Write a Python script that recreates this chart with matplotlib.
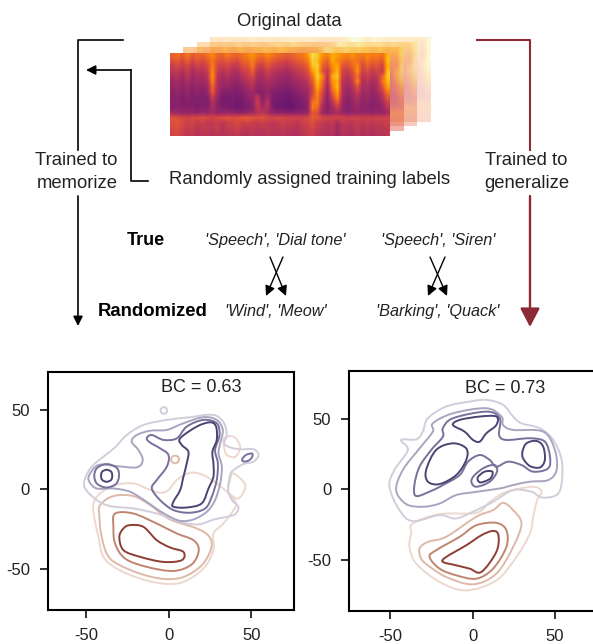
import numpy as np
import matplotlib
matplotlib.use("Agg")
import matplotlib.pyplot as plt
from matplotlib.path import Path
from matplotlib.patches import PathPatch

plt.rcParams["font.family"] = ["Liberation Sans", "DejaVu Sans"]

# spectrogram read by eye, rows top to bottom, 0-100 on inferno
spec = np.array([
    [62,66,60,68,60,64,62,66,72,64,62,68,64,62,66,70,74,68,66,72,68,64,62,60,62,66,68,74,90,86,74,70,80,76,72,70,74,70,68,72,68,70,66,82],
    [56,60,54,62,52,58,54,60,68,58,56,60,56,54,62,64,70,60,58,64,60,56,54,52,56,60,62,68,88,84,68,62,80,72,66,62,68,66,60,68,62,64,58,84],
    [50,54,48,54,46,52,48,54,70,54,50,54,48,48,56,58,68,52,50,58,52,50,48,46,50,54,56,60,84,88,62,56,74,78,58,56,64,72,54,62,56,58,52,80],
    [46,48,42,50,42,46,44,50,72,50,44,48,44,42,50,52,62,46,44,52,46,44,42,40,44,48,50,56,76,86,58,48,70,82,52,50,56,74,50,56,48,54,48,84],
    [42,44,38,46,38,42,40,46,74,46,40,44,40,38,44,48,54,42,40,46,42,40,38,36,40,44,46,50,66,88,72,44,80,86,50,44,52,66,46,50,44,48,62,86],
    [38,40,36,42,36,40,38,42,70,44,38,40,36,36,40,44,48,38,38,42,40,36,36,34,36,40,42,46,60,84,64,42,74,80,46,42,48,72,42,46,40,44,66,82],
    [36,38,34,38,34,36,34,38,64,42,36,36,34,32,36,40,44,36,36,38,36,34,32,32,34,36,38,42,54,80,62,38,70,84,44,38,44,58,40,42,38,42,58,78],
    [34,36,32,36,32,34,32,36,60,40,32,32,30,30,32,36,38,32,32,36,32,30,30,28,30,34,36,38,52,74,54,36,62,78,42,36,40,50,38,40,36,40,50,68],
    [32,34,30,34,30,32,30,32,50,36,28,28,30,28,30,34,36,46,32,40,30,28,28,26,28,30,32,36,58,70,50,34,54,72,40,34,38,44,36,38,34,36,44,60],
    [32,32,30,32,30,30,30,30,44,34,28,28,28,26,28,32,34,50,34,46,28,26,26,24,26,28,30,34,66,70,46,32,46,62,38,32,36,40,34,36,32,34,40,52],
    [32,34,32,32,32,30,32,32,40,34,30,30,28,26,28,30,32,48,40,44,30,26,26,24,24,28,30,32,68,64,40,32,40,50,36,32,34,38,34,34,32,34,36,46],
    [38,38,36,36,36,34,38,36,40,36,36,36,36,34,34,36,38,44,46,42,36,34,34,32,32,34,34,36,60,56,38,34,38,42,36,34,36,36,36,36,34,36,36,40],
    [58,56,54,52,54,54,56,54,52,54,56,58,56,56,60,60,58,56,58,54,52,54,54,52,52,52,52,54,60,58,54,52,52,52,52,50,50,52,50,50,50,52,50,52],
    [56,58,54,50,52,48,50,46,48,50,46,50,52,54,50,52,50,48,50,48,46,48,50,48,48,46,50,52,56,50,48,46,48,40,48,46,46,48,46,48,46,48,48,50],
    [54,56,52,48,50,46,48,48,46,50,44,48,50,52,48,46,48,46,46,48,46,46,48,46,46,44,48,50,54,48,46,44,46,38,46,44,44,48,44,46,44,46,46,48],
    [52,54,50,46,48,44,46,46,44,46,44,46,46,48,44,44,46,44,44,46,44,44,46,44,44,42,46,48,50,46,44,42,44,38,44,42,42,46,42,44,42,44,44,46],
]) / 100.0

xticks = [-50, 0, 50]
yticks = [-50, 0, 50]
tick_labels = ["-50", "0", "50"]

# left panel contours, blue family
bl0 = [(29.1,46.3),(33.6,41.7),(35.2,34.3),(33.6,29),(37.2,26.5),(43.3,25.3),(51.4,25.3),(54.5,21.7),(51.4,17.5),(45.3,16),(39.3,12.2),(37.2,9),(36,-0.4),(38.3,-6.7),(42.3,-11),(40.3,-15.6),(35.2,-17.3),(27.1,-19),(19,-21.9),(10.9,-21.5),(2.8,-19),(-7.3,-15.2),(-21.5,-12),(-35.6,-10.5),(-43.7,-6.7),(-50.8,0.6),(-50.8,6.9),(-46.8,14.3),(-39.7,20.6),(-32.6,26.5),(-25.5,34.3),(-15.4,40.6),(-1.2,43.8),(13,45.5),(23,47)]
bl1 = [(-48.2,9.1),(-42.7,15.4),(-31.6,14.7),(-19.4,13.9),(-15.8,18.5),(-18.4,24.8),(-22.5,30.1),(-19.4,34.3),(-11.3,37),(-1.2,37.5),(8.9,41.7),(21,45.5),(29.1,43.8),(32.8,37.5),(31.2,29),(30.2,22.7),(32.2,14.3),(31.2,3.8),(28.1,-6.7),(23.1,-14.1),(15,-18.9),(6.9,-19.8),(-1.2,-16.2),(-9.3,-10.9),(-13.4,-7.8),(-23.5,-1.5),(-33.6,0.6),(-43.7,0.6),(-48.2,4.8)]
bl2 = [(-13.4,32.2),(-10.3,34.3),(-3.2,31.2),(4.9,32.2),(10.9,39.6),(21,43.8),(29.1,41.7),(30.8,34.3),(28.1,24.8),(29.8,16.4),(29.1,5.9),(26.1,-4.6),(22.1,-12),(13,-14.7),(2.8,-13),(-5.3,-6.7),(-10.3,0.6),(-7.3,5.9),(-1.2,14.3),(-0.2,21.7),(-5.3,25.9),(-11.3,29.5)]
bl3 = [(6.9,32.2),(17,39.6),(25.1,42.3),(28.7,39.6),(29.1,31.2),(26.5,23.8),(27.1,16.4),(27.1,8),(24.1,0.6),(20,-8.8),(10.9,-11.4),(2.8,-10.9),(2.8,-7.8),(6.9,-0.4),(8.9,8),(10.9,16.4),(11.9,23.8),(7.9,28)]
bl_ring_out = [(-37.7,16),(-31.5,13.5),(-30.2,8.6),(-32,3.5),(-37.7,1.2),(-43.5,3.5),(-45.2,8.6),(-43.5,13.5)]
bl_ring_in = [(-37.7,12.4),(-35,11.2),(-34.3,8.6),(-35,6),(-37.7,4.8),(-40.4,6),(-41.1,8.6),(-40.4,11.2)]
bl_right = [(44.5,19),(47,21.8),(50.5,22.6),(50.6,20.5),(48.5,18.2),(45.5,17.6)]
bl_dot = [(-3,51.8),(-1.6,51.2),(-1,49.7),(-1.6,48.3),(-3,47.7),(-4.4,48.3),(-5,49.7),(-4.4,51.2)]

# left panel contours, peach family
pl0 = [(-45.7,-8.8),(-41.7,-2.5),(-32.6,2.7),(-21.5,3.8),(-13.4,0.6),(-5.3,-2.1),(-0.2,-0.4),(4.9,5.9),(13,10.5),(21,9),(29.1,3.8),(36.2,-2.5),(40.9,-8.8),(39.3,-13),(33.2,-21.5),(27.1,-27.8),(27.1,-38.3),(21,-49.9),(8.9,-58.3),(-3.2,-59.4),(-17.4,-56.2),(-31.6,-49.9),(-39.7,-42.5),(-42.7,-29.9),(-45.3,-17.3)]
pl1 = [(-41.7,-9.9),(-33.6,-4.2),(-21.5,-4.2),(-11.3,-9.9),(0.8,-18.9),(17,-24.6),(24.7,-29.9),(25.7,-37.3),(20,-47.8),(8.9,-55.2),(-3.2,-56.4),(-17.4,-53.1),(-31.6,-46.7),(-37.7,-40.4),(-41.1,-27.8),(-42.1,-17.3)]
pl2 = [(-32.6,-15.2),(-21.5,-15.2),(-7.3,-21.5),(4.9,-27.8),(15,-32),(18.2,-38.3),(14,-47.2),(2.8,-51.4),(-13.4,-48.8),(-26.5,-43.6),(-32.6,-34.1),(-33.6,-23.6)]
pl3 = [(-23.5,-22.5),(-15.4,-23.6),(-7.3,-32),(0.8,-36.6),(8.9,-39.4),(7.9,-44.6),(-3.2,-45.7),(-17.4,-42.5),(-27.5,-38.3),(-30,-29.9),(-27.5,-24.6)]
pl_lobe_a = [(33.6,32.2),(39.3,33.3),(43.3,26.9),(40.3,20.6),(35.2,21.7),(33.6,26.9)]
pl_lobe_b = [(39.3,10.1),(46.4,2.7),(42.3,-5.7),(36.2,-1.5),(37.2,5.9)]
pl_dot = [(3.8,21.3),(5.5,20.6),(6.2,18.9),(5.5,17.2),(3.8,16.5),(2.1,17.2),(1.4,18.9),(2.1,20.6)]

# right panel contours, blue family
br0 = [(8.3,63.5),(18.5,60),(24.6,51.7),(29.7,46.9),(40.9,43.4),(49,35.1),(54.1,20.9),(54.1,4.3),(51,-4),(41.9,-5.7),(35.8,-1.7),(24.6,-0.5),(12.4,-8.8),(2.2,-14.7),(-10,-20.6),(-20.1,-18.2),(-36.4,-22.5),(-44.5,-14.7),(-50.6,1.9),(-47.6,13.7),(-39.4,28),(-43.5,35.1),(-34.3,35.5),(-30.3,41),(-27.2,50.5),(-16.1,58.8),(-1.8,62.3)]
br1 = [(-40.4,-10.4),(-46.5,-0.5),(-42.5,13.7),(-32.3,29.1),(-24.2,41),(-24.2,46.9),(-12,54),(8.3,57.6),(17.5,51.7),(18.5,45.7),(24.6,42.2),(42.9,41),(50,28),(51,13.7),(45.9,6.6),(34.8,5.5),(24.6,3.1),(16.5,0.7),(2.2,-1.7),(-10,-4),(-20.1,-10),(-30.3,-12.3)]
br2 = [(-34.3,-4.7),(-24.2,-0.5),(-18.1,3.1),(-7.9,10.2),(-2.8,19.7),(4.3,24.4),(10.4,20.9),(14.4,16.1),(21.5,19.7),(29.7,17.3),(36.8,12.6),(45.9,14.9),(47,23.2),(43.9,33.9),(34.8,36.3),(20.5,35.1),(16.1,38.6),(16.5,50.5),(8.3,55.2),(-12,50.5),(-18.1,43.4),(-18.1,37.4),(-25.2,28),(-32.3,16.1),(-35.4,3.1)]
br_left = [(-28.3,13.7),(-22.2,28),(-12,32.7),(-3.9,29.1),(-3.9,20.9),(-10,10.2),(-20.1,3.8),(-27.2,5.5)]
br_top = [(-12,45.7),(-7.9,49.3),(4.3,51.7),(14.4,51.7),(14.4,45.7),(8.3,39.8),(4.3,33.9),(0.2,35.1),(-4.9,41)]
br_right = [(30.3,26.8),(32.7,32.7),(38.8,34.4),(42.9,30.3),(43.9,20.9),(40.9,15.6),(34.8,16.6),(30.7,22)]
br_small = [(-0.8,5.5),(1.2,10.2),(7.3,15.6),(13.4,17.3),(14.8,12.6),(10.4,5.5),(2.2,1.9)]
br_tiny = [(3.3,9),(7.3,12.6),(12,12.6),(10.8,7.8),(5.3,5),(3.3,6.2)]

# right panel contours, peach family
pr0 = [(-36.4,-24.2),(-20.1,-17.5),(2.2,-16.6),(10.4,-8.8),(20.5,-1.7),(36.8,1.9),(41.9,-1.7),(39.2,-7.6),(36.8,-19.4),(34.8,-31.3),(26.6,-47.9),(14.4,-64.5),(-3.9,-71.6),(-20.1,-65.6),(-34.3,-52.6),(-38.4,-40.8),(-37.4,-31.3)]
pr1 = [(-32.3,-41.9),(-27.2,-37.2),(-16.1,-33.6),(2.2,-19.4),(12.4,-14.7),(18.5,-9.5),(24.6,-14.7),(29.7,-24.2),(24.6,-40.8),(14.4,-59.7),(0.2,-67.3),(-16.1,-62.1),(-27.2,-53.8),(-31.3,-49.1)]
pr2 = [(-26.2,-47.9),(-22.2,-43.1),(-7.9,-33.6),(2.2,-25.4),(14.4,-23.7),(20.5,-28.9),(20.5,-40.8),(12.4,-56.2),(2.2,-63.3),(-10,-60.9),(-20.1,-56.2)]
pr3 = [(-18.1,-51.4),(-16.1,-47.9),(-3.9,-39.6),(5.3,-32.5),(12.4,-29.4),(15.7,-32.5),(14.4,-44.3),(5.3,-58.5),(-1.8,-56.2),(-10,-53.8)]

blue0, blue1, blue2, blue3 = "#d3cddb", "#aaa4c0", "#77709a", "#4a4472"
peach0, peach1, peach2, peach3 = "#ecd8ce", "#deb9a9", "#c08570", "#8e3d33"


def closed_curve(ax, pts, color, lw=1.4):
    # closed smooth line through the points (catmull-rom as bezier)
    p = np.array(pts, dtype=float)
    n = len(p)
    verts = [p[0]]
    codes = [Path.MOVETO]
    for i in range(n):
        p0, p1, p2, p3 = p[i - 1], p[i], p[(i + 1) % n], p[(i + 2) % n]
        verts += [p1 + (p2 - p0) / 6, p2 - (p3 - p1) / 6, p2]
        codes += [Path.CURVE4] * 3
    ax.add_patch(PathPatch(Path(verts, codes), fc="none", ec=color, lw=lw))


def panel(rect, xlim, ylim):
    ax = fig.add_axes([rect[0] / 593, 1 - rect[3] / 644, (rect[2] - rect[0]) / 593, (rect[3] - rect[1]) / 644])
    ax.set_xlim(xlim)
    ax.set_ylim(ylim)
    ax.set_xticks(xticks, tick_labels)
    ax.set_yticks(yticks, tick_labels)
    ax.tick_params(labelsize=12, length=6, width=1.3, pad=7, colors="#222222")
    for s in ax.spines.values():
        s.set_linewidth(1.5)
    return ax


fig = plt.figure(figsize=(5.93, 6.44), dpi=100)

# top diagram is drawn in picture pixels
top = fig.add_axes([0, 0, 1, 1])
top.axis("off")
for ext, alpha, low in [((210, 431, 122, 37), 0.24, -0.5), ((197, 417, 126, 42), 0.32, -0.4), ((183, 404, 131, 47), 0.45, -0.3)]:
    top.imshow(spec, cmap="inferno", vmin=low, vmax=0.95, extent=ext, aspect="auto", alpha=alpha, interpolation="bilinear")
top.imshow(spec, cmap="inferno", vmin=-0.08, vmax=1, extent=(170, 390, 136, 53), aspect="auto", interpolation="bilinear")
top.set_xlim(0, 593)
top.set_ylim(644, 0)


def arrow(start, end, color="black", lw=1.2, size=14):
    top.annotate("", xy=end, xytext=start,
                 arrowprops=dict(arrowstyle="-|>", color=color, lw=lw, mutation_scale=size, shrinkA=0, shrinkB=0))


red = "#8c2a35"
top.plot([123, 78, 78], [40, 40, 150], color="black", lw=1.2)
arrow((78, 196), (78, 326))
top.plot([148, 131, 131], [181, 181, 70], color="black", lw=1.2)
arrow((131, 70), (86, 70))
top.plot([477, 530, 530], [40, 40, 150], color=red, lw=1.5)
top.annotate("", xy=(530, 327), xytext=(530, 196),
             arrowprops=dict(arrowstyle="-|>,head_length=0.44,head_width=0.23", color=red, lw=1.7,
                             mutation_scale=26, shrinkA=0, shrinkB=0))

for s, e in [((270, 257), (286, 296)), ((283, 257), (266, 296)), ((430, 257), (447, 296)), ((445, 257), (428, 296))]:
    arrow(s, e, lw=1.0, size=15)

fs = 13.3
top.text(289.5, 21, "Original data", ha="center", va="center", fontsize=13.3, color="#222222")
top.text(310, 179, "Randomly assigned training labels", ha="center", va="center", fontsize=fs, color="#222222")
top.text(76, 160, "Trained to", ha="center", va="center", fontsize=fs, color="#222222")
top.text(77, 183, "memorize", ha="center", va="center", fontsize=fs, color="#222222")
top.text(526, 160, "Trained to", ha="center", va="center", fontsize=fs, color="#222222")
top.text(527, 183, "generalize", ha="center", va="center", fontsize=fs, color="#222222")
top.text(146, 240, "True", ha="center", va="center", fontsize=13, fontweight="bold")
top.text(153, 311, "Randomized", ha="center", va="center", fontsize=13.3, fontweight="bold")
for x, y, s in [(275, 240, "'Speech', 'Dial tone'"), (438, 240, "'Speech', 'Siren'"),
                (276, 311, "'Wind', 'Meow'"), (438, 311, "'Barking', 'Quack'")]:
    top.text(x, y, s, ha="center", va="center", fontsize=11.7, style="italic", color="#222222")

# bottom panels
ax1 = panel((48, 372, 294, 610), (-73.3, 76), (-76, 74))
for pts, c in [(pl0, peach0), (pl_lobe_a, peach0), (pl_lobe_b, peach0), (pl_dot, peach1), (pl1, peach1), (pl2, peach2), (pl3, peach3)]:
    closed_curve(ax1, pts, c)
for pts, c in [(bl0, blue0), (bl_dot, blue0), (bl1, blue1), (bl_right, blue2), (bl_ring_out, blue2), (bl2, blue2), (bl3, blue3), (bl_ring_in, blue3)]:
    closed_curve(ax1, pts, c)
ax1.text(19.6, 64, "BC = 0.63", ha="center", va="center", fontsize=13, color="#222222")

ax2 = panel((349.3, 371, 596, 610.7), (-75, 75), (-86, 84))
for pts, c in [(pr0, peach0), (pr1, peach1), (pr2, peach2), (pr3, peach3)]:
    closed_curve(ax2, pts, c)
for pts, c in [(br0, blue0), (br1, blue1), (br2, blue2), (br_small, blue2), (br_left, blue3), (br_top, blue3), (br_right, blue3), (br_tiny, blue3)]:
    closed_curve(ax2, pts, c)
ax2.text(20, 71.8, "BC = 0.73", ha="center", va="center", fontsize=13, color="#222222")

plt.savefig("out.png", dpi=100)
